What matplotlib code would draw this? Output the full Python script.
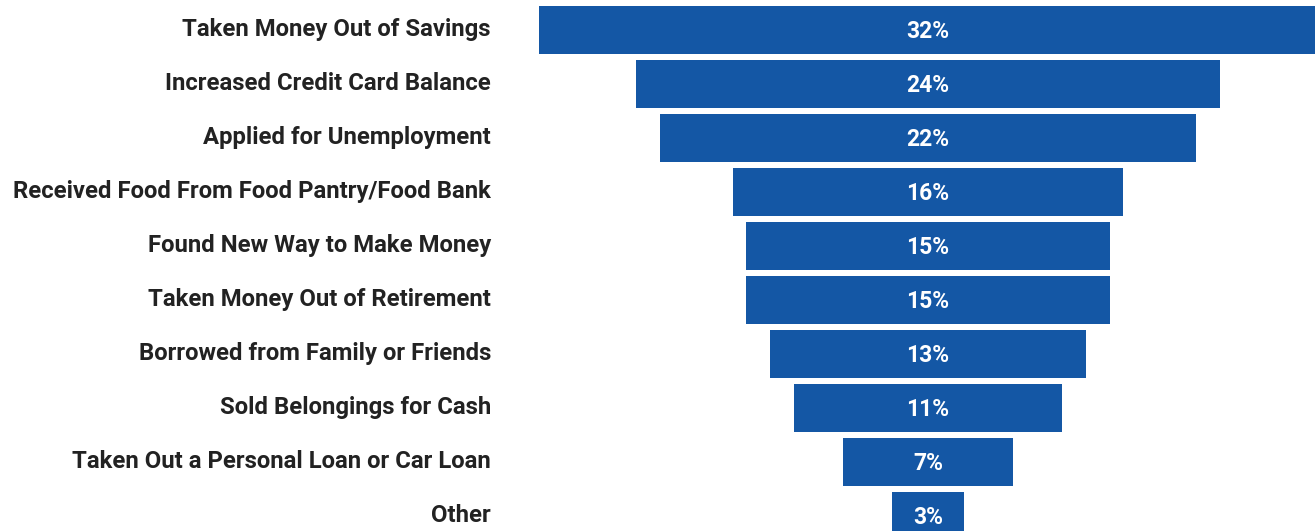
import matplotlib.pyplot as plt
import numpy as np

# Funnel of actions taken
categories = [
    'Taken Money Out of Savings',
    'Increased Credit Card Balance',
    'Applied for Unemployment',
    'Received Food From Food Pantry/Food Bank',
    'Found New Way to Make Money',
    'Taken Money Out of Retirement',
    'Borrowed from Family or Friends',
    'Sold Belongings for Cash',
    'Taken Out a Personal Loan or Car Loan',
    'Other',
]
values = [32, 24, 22, 16, 15, 15, 13, 11, 7, 3]

bar_color = '#1457A5'
text_color = '#222222'

plt.rcParams['font.family'] = ['Roboto', 'DejaVu Sans']

fig = plt.figure(figsize=(13.15, 5.31), dpi=100)
ax = fig.add_axes([0, 0, 1, 1])

y = np.arange(len(values))
vals = np.array(values, dtype=float)
ax.barh(y, vals, left=-vals / 2, height=0.88, color=bar_color)

for yi, v in zip(y, values):
    ax.text(0, yi + 0.04, f'{v}%', ha='center', va='center', color='white',
            fontsize=16.5, fontweight='bold')

# labels right-aligned in figure coordinates
for yi, c in zip(y, categories):
    ax.text(491 / 1315, yi, c, transform=ax.get_yaxis_transform(),
            ha='right', va='center', color=text_color,
            fontsize=17.2, fontweight='bold')

px = 24.33
ax.set_xlim(-928 / px, (1315 - 928) / px)
ax.set_ylim(9 + (531 - 515.8) / 54, -29.8 / 54)
ax.axis('off')

fig.savefig('out.png', dpi=100)
